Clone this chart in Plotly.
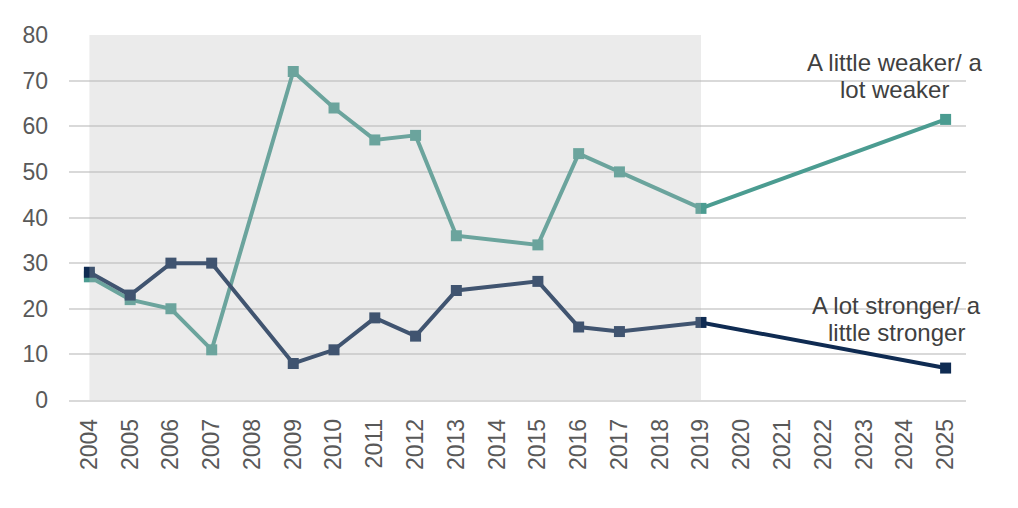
import plotly.graph_objects as go

years = [str(y) for y in range(2004, 2026)]
weaker = [27, 22, 20, 11, None, 72, 64, 57, 58, 36, None, 34, 54, 50, None, 42,
          None, None, None, None, None, 61.5]
stronger = [28, 23, 30, 30, None, 8, 11, 18, 14, 24, None, 26, 16, 15, None, 17,
            None, None, None, None, None, 7]
shade_start, shade_end = "2004", "2019"
weaker_label = ["A little weaker/ a", "lot weaker"]
stronger_label = ["A lot stronger/ a", "little stronger"]

teal = "#4b9c91"
navy = "#0f2b52"
FONT = "Liberation Sans, Arial"

fig = go.Figure()
fig.add_trace(go.Scatter(x=years, y=weaker, mode="lines+markers", connectgaps=True,
                         line=dict(color=teal, width=4),
                         marker=dict(symbol="square", size=11, color=teal),
                         name=" ".join(weaker_label)))
fig.add_trace(go.Scatter(x=years, y=stronger, mode="lines+markers", connectgaps=True,
                         line=dict(color=navy, width=4),
                         marker=dict(symbol="square", size=11, color=navy),
                         name=" ".join(stronger_label)))

fig.add_shape(type="rect", xref="x", yref="y",
              x0=years.index(shade_start), x1=years.index(shade_end), y0=0, y1=80,
              fillcolor="rgba(185,185,185,0.29)", line=dict(width=0), layer="above")

label_x = years.index("2025") - 1.25
for txt, yy in zip(weaker_label, [74.0, 68.1]):
    fig.add_annotation(x=label_x, y=yy, xref="x", yref="y", text=txt, showarrow=False,
                       font=dict(family=FONT, size=24, color="#404040"))
for txt, yy in zip(stronger_label, [20.8, 14.9]):
    fig.add_annotation(x=label_x + 0.05, y=yy, xref="x", yref="y", text=txt, showarrow=False,
                       font=dict(family=FONT, size=24, color="#404040"))

fig.update_layout(
    width=1018, height=508,
    margin=dict(l=69, r=52, t=35, b=108),
    plot_bgcolor="white", paper_bgcolor="white",
    showlegend=False,
    font=dict(family=FONT, color="#595959"),
)
fig.update_xaxes(type="category", categoryorder="array", categoryarray=years,
                 range=[-0.5, len(years) - 0.5], tickangle=-90,
                 tickfont=dict(size=23, color="#595959"),
                 showgrid=False, showline=True, linecolor="#d9d9d9", linewidth=1.5,
                 ticks="", zeroline=False, ticklabelstandoff=8)
fig.update_yaxes(range=[0, 80], dtick=10, tickfont=dict(size=23, color="#595959"),
                 showgrid=True, gridcolor="#d9d9d9", gridwidth=1.5,
                 zeroline=False, showline=False, ticks="", ticklabelstandoff=20)

fig.write_html("out.html")
